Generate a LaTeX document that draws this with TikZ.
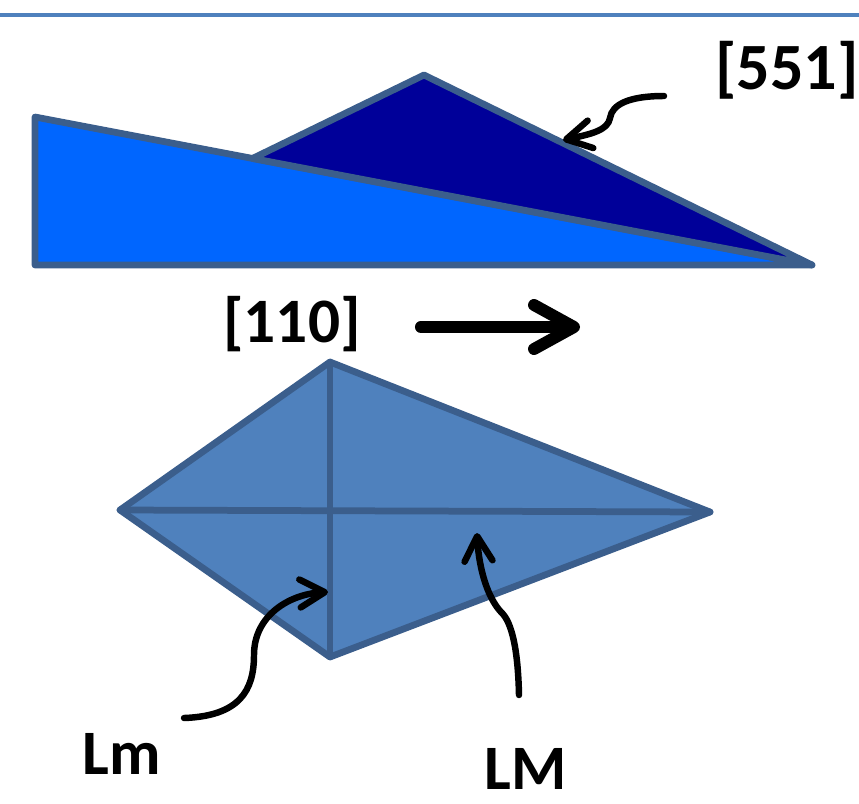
\documentclass[tikz,border=0pt]{standalone}
\usepackage{fontspec}
\setmainfont{Carlito}
\usetikzlibrary{arrows.meta,calc}
\definecolor{wedgelight}{HTML}{0066FF}
\definecolor{wedgedark}{HTML}{000099}
\definecolor{kitefill}{HTML}{4F81BD}
\definecolor{rim}{HTML}{3B5E8C}
\begin{document}
\begin{tikzpicture}[x=0.025cm,y=-0.025cm,
    tag/.style={inner sep=0pt,font=\fontsize{45}{45}\selectfont\bfseries},
    facet/.style={draw=rim,line width=4.8pt,line join=round,line cap=round},
    pointer/.style={line width=4.6pt,line cap=round,-{Straight Barb[length=0.62cm,width=0.7cm,round]}}]
  \useasboundingbox (0,0) rectangle (859,803);
  \draw[kitefill,line width=2.5pt] (0,15) -- (859,15);

  % side view
  \coordinate (wedge top) at (35,117);
  \coordinate (wedge foot) at (35,265);
  \coordinate (wedge tip) at (812,265);
  \draw[facet,fill=wedgelight] (wedge top) -- (wedge foot) -- (wedge tip) -- cycle;
  \coordinate (step left) at ($(wedge top)!0.28!(wedge tip)$);
  \coordinate (step apex) at (424,75);
  \draw[facet,fill=wedgedark] (step left) -- (step apex) -- (wedge tip) -- cycle;
  \node[tag,font=\fontsize{47}{47}\selectfont\bfseries] (n551) at (787,70) {[551]};
  \coordinate (p551) at (664,96);
  \coordinate (t551) at (563,140);
  \draw[pointer] (p551) .. controls (630,96) and (612,104) .. (610,118)
    .. controls (608,130) and (592,134) .. (t551);

  % direction
  \node[tag] (n110) at (292,324) {[110]};
  \coordinate (dir end) at (580,327);
  \draw[line width=8.5pt,line cap=round,-{Straight Barb[length=1.0cm,width=1.1cm,round]}]
    (n110.east) ++(60,3) coordinate (dir start) -- (dir end);

  % top view
  \coordinate (kite n) at (330,362);
  \coordinate (kite w) at (120,510);
  \coordinate (kite e) at (710,512);
  \coordinate (kite s) at (330,657);
  \draw[facet,fill=kitefill] (kite n) -- (kite e) -- (kite s) -- (kite w) -- cycle;
  \draw[facet] (kite n) -- (kite s);
  \draw[facet] (kite w) -- (kite e);

  % labels
  \node[tag] (nLm) at (122,754) {Lm};
  \node[tag] (nLM) at (526,769) {LM};
  \coordinate (pLm) at (184,718);
  \coordinate (tLm) at (328,592);
  \draw[pointer] (pLm) .. controls (240,716) and (254,690) .. (254,655)
    .. controls (254,615) and (290,594) .. (tLm);
  \coordinate (pLM) at (519,695);
  \coordinate (tLM) at (477,533);
  \draw[pointer] (pLM) .. controls (518,650) and (512,622) .. (501,612)
    .. controls (488,598) and (479,570) .. (tLM);
\end{tikzpicture}
\end{document}
